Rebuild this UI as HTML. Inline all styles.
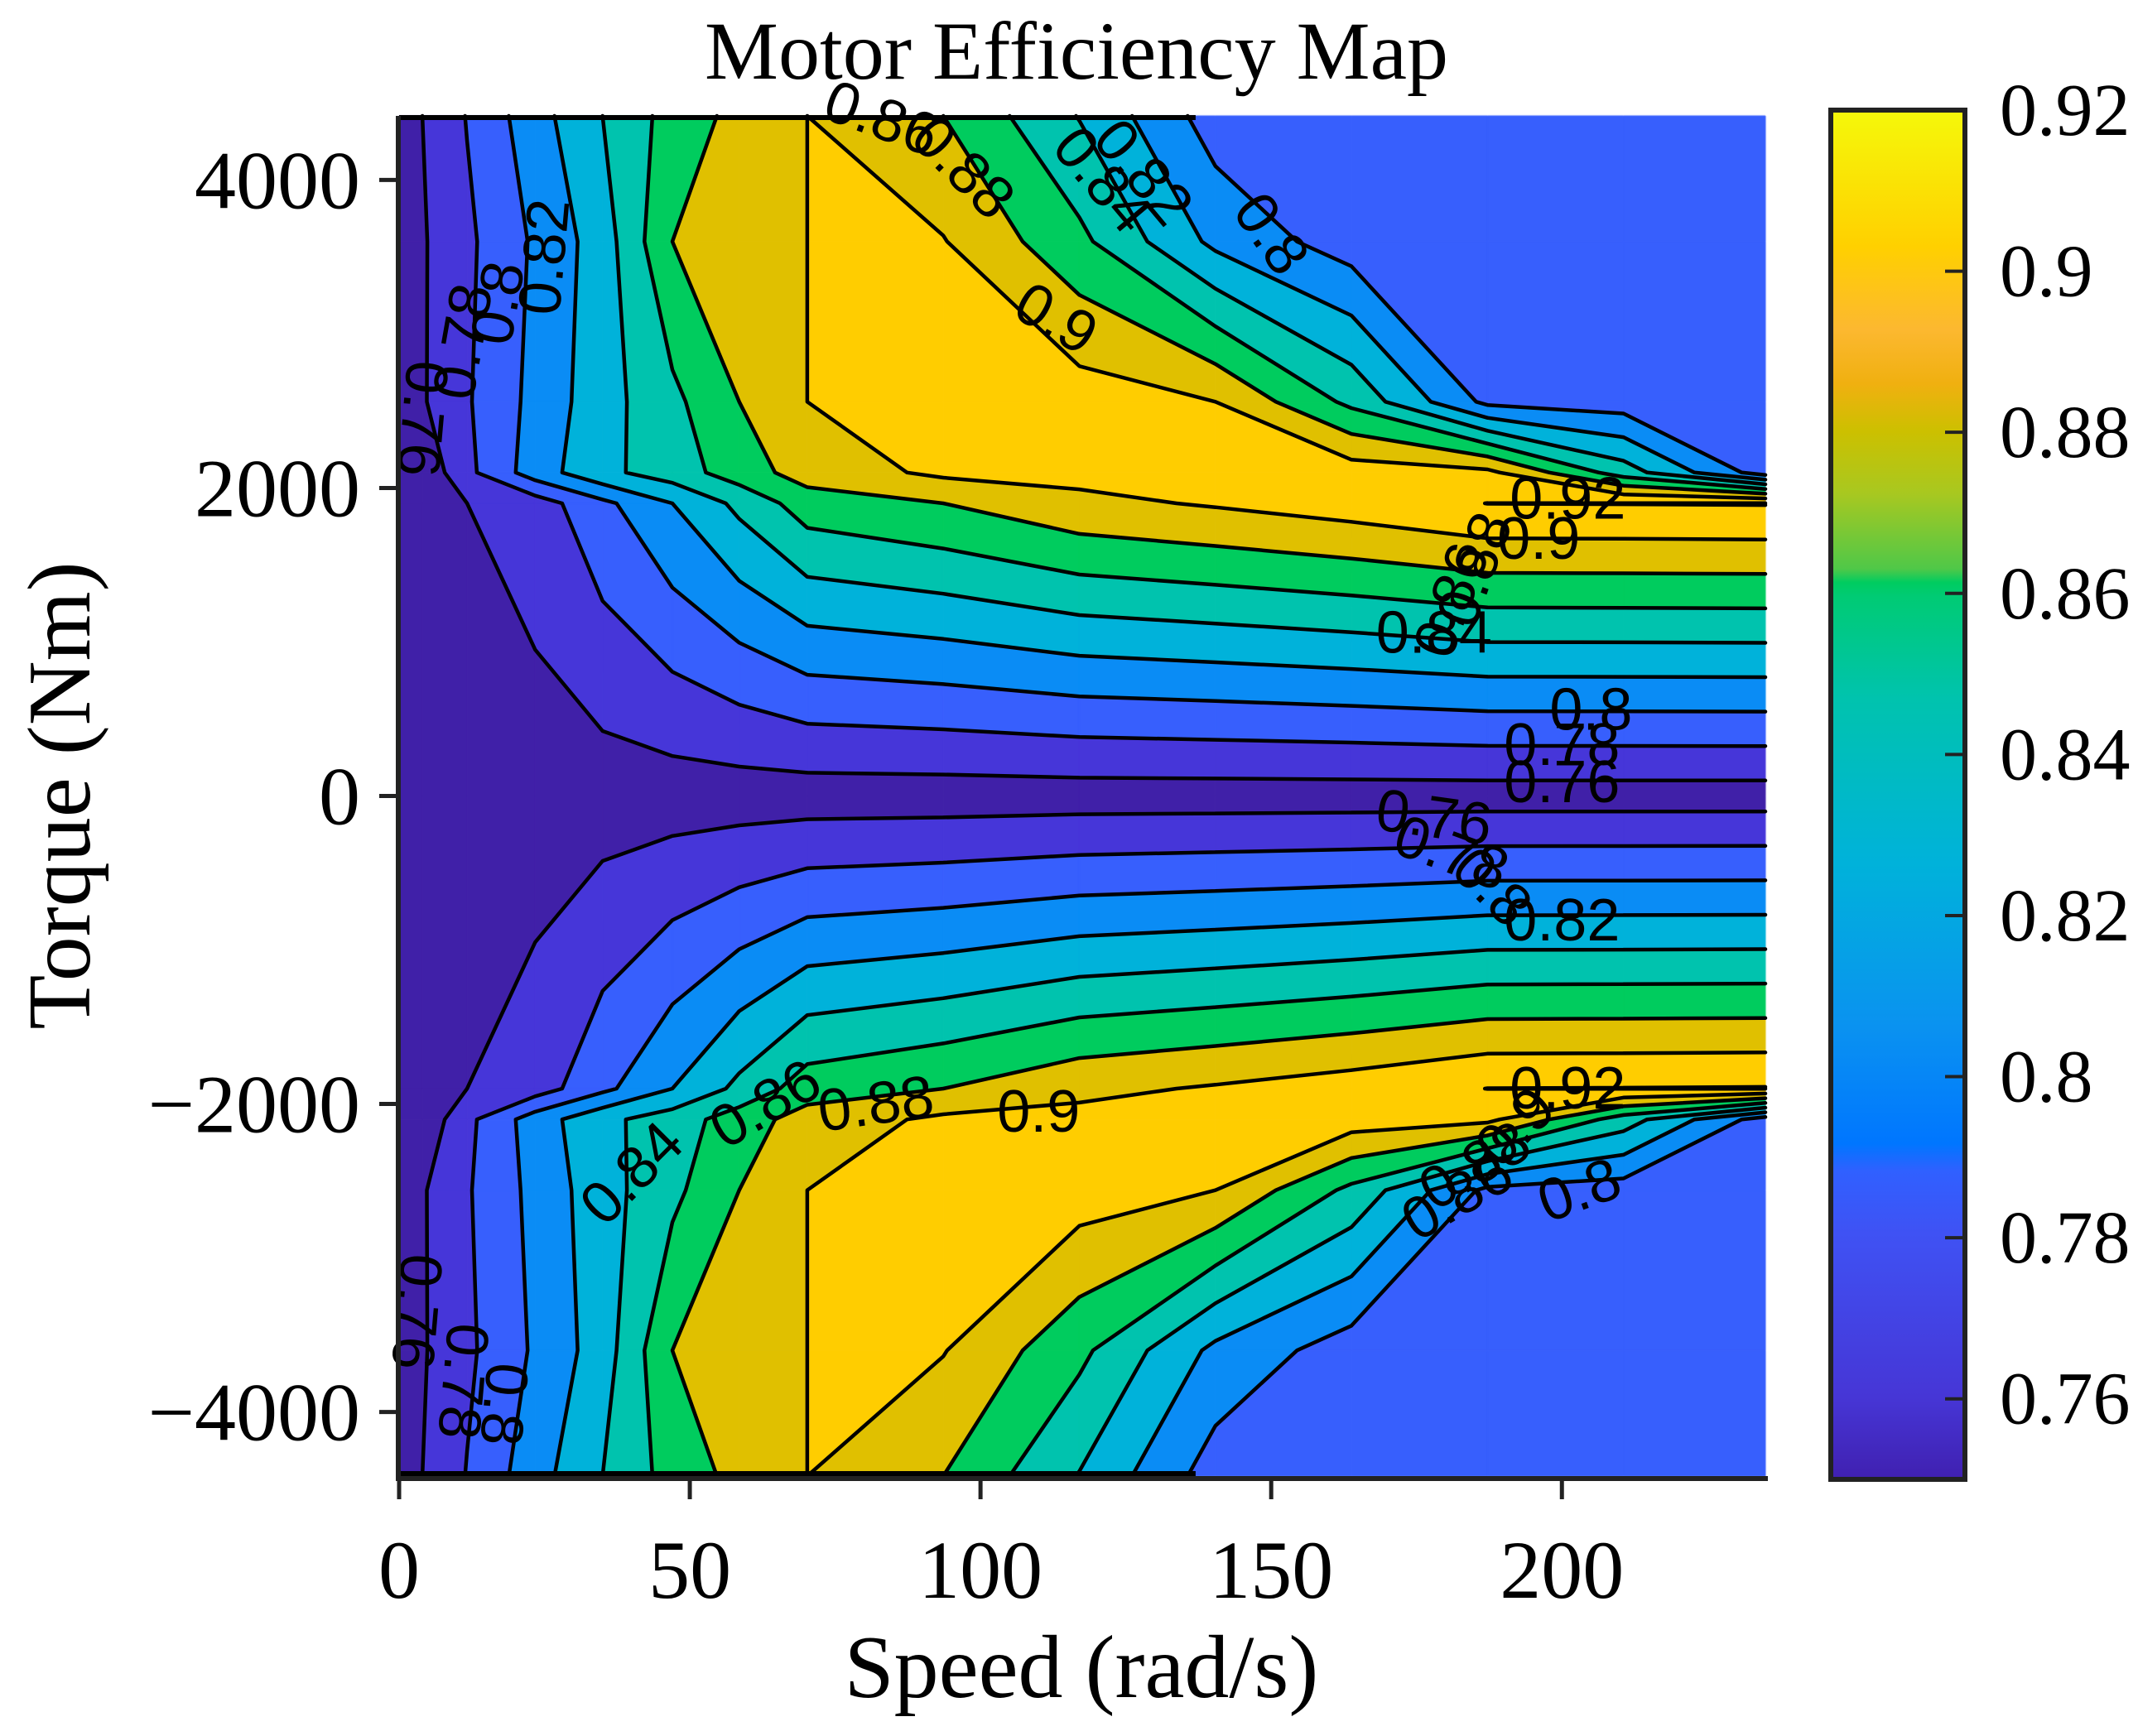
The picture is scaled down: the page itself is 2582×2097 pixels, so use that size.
<!DOCTYPE html>
<html><head><meta charset="utf-8">
<style>
html,body{margin:0;padding:0;background:#fff;}
#root{position:relative;width:2582px;height:2097px;overflow:hidden;background:#fff;}
canvas{position:absolute;left:0;top:0;}
svg{position:absolute;left:0;top:0;}
</style></head>
<body>
<div id="root">
<canvas id="fill" width="2582" height="2097"></canvas>
<svg id="ov" width="2582" height="2097">
  <defs>
    <linearGradient id="cbg" x1="0" y1="1" x2="0" y2="0">
      <stop offset="0" stop-color="#4020b0"/>
      <stop offset="0.06" stop-color="#4636d6"/>
      <stop offset="0.18" stop-color="#3f52f4"/>
      <stop offset="0.225" stop-color="#3060ff"/>
      <stop offset="0.245" stop-color="#0076ff"/>
      <stop offset="0.33" stop-color="#0a92f0"/>
      <stop offset="0.45" stop-color="#00b2da"/>
      <stop offset="0.57" stop-color="#00c3ae"/>
      <stop offset="0.645" stop-color="#00cb74"/>
      <stop offset="0.655" stop-color="#00cc60"/>
      <stop offset="0.665" stop-color="#50c848"/>
      <stop offset="0.72" stop-color="#a8c820"/>
      <stop offset="0.765" stop-color="#ccc000"/>
      <stop offset="0.80" stop-color="#f0b010"/>
      <stop offset="0.84" stop-color="#fcb830"/>
      <stop offset="0.90" stop-color="#ffd000"/>
      <stop offset="1" stop-color="#f5f80a"/>
    </linearGradient>
  </defs>
  <text x="1300" y="95" text-anchor="middle" font-family="Liberation Serif, serif" font-size="100">Motor Efficiency Map</text>
  <g id="contours"></g>
  <g id="clabels" font-family="Liberation Sans, sans-serif" font-size="72" fill="#000"></g>
  <g id="axes"></g>
  <text x="1306" y="2050" text-anchor="middle" font-family="Liberation Serif, serif" font-size="108">Speed (rad/s)</text>
  <text transform="translate(108,961) rotate(-90)" text-anchor="middle" font-family="Liberation Serif, serif" font-size="108">Torque (Nm)</text>
  <g id="cbar"></g>
</svg>
</div>
<script>
// ---- data ----
const speeds = [0, 4, 11.7, 23.4, 35, 47, 58.5, 70.2, 93.6, 117, 140.4, 163.8, 187.2, 210.6, 235];
const torques = [4416, 3600, 2560, 2100, 1900, 0, -1900, -2100, -2560, -3600, -4416];
const effRow4416 = [0.745,0.76,0.781,0.812,0.84,0.868,0.886,0.90,0.88,0.839,0.79,0.79,0.79,0.79,0.79];
const effRow3600 = [0.745,0.758,0.776,0.803,0.83,0.88,0.89,0.90,0.901,0.865,0.815,0.79,0.79,0.79,0.79];
const effRow2560 = [0.742,0.758,0.778,0.806,0.832,0.855,0.88,0.90,0.915,0.91,0.90,0.855,0.795,0.79,0.79];
const effRow2100 = [0.74,0.745,0.775,0.81,0.835,0.85,0.87,0.889,0.904,0.906,0.908,0.91,0.905,0.85,0.79];
const effRow1900 = [0.74,0.745,0.76,0.77,0.795,0.82,0.845,0.87,0.88,0.895,0.902,0.91,0.9202,0.9205,0.921];
const effRow0    = [0.74,0.742,0.745,0.75,0.75,0.7505,0.7505,0.7505,0.7505,0.751,0.751,0.751,0.751,0.751,0.751];
const effRowN1900 = [0.74,0.745,0.76,0.77,0.795,0.82,0.845,0.87,0.88,0.895,0.902,0.91,0.9202,0.9205,0.921];
const effRowN2100 = [0.74,0.745,0.775,0.81,0.835,0.85,0.87,0.889,0.904,0.906,0.908,0.91,0.905,0.85,0.79];
const effRowN2560 = [0.742,0.758,0.778,0.806,0.832,0.855,0.88,0.90,0.915,0.91,0.90,0.855,0.795,0.79,0.79];
const effRowN3600 = [0.745,0.758,0.776,0.803,0.83,0.88,0.89,0.90,0.901,0.865,0.815,0.79,0.79,0.79,0.79];
const effRowN4416 = [0.745,0.76,0.781,0.812,0.84,0.868,0.886,0.90,0.88,0.839,0.79,0.79,0.79,0.79,0.79];
const levels = [0.76,0.78,0.80,0.82,0.84,0.86,0.88,0.90,0.92];
const bandColors = ["#4020a8","#4636d9","#375ffd","#0a8cf5","#00b2da","#00c3ae","#00cc5e","#e0c000","#ffcd00","#f5f50a"];
const xTicks = [0,50,100,150,200];
const yTicks = [4000,2000,0,-2000,-4000];
const yTickLabels = ["4000","2000","0","\u22122000","\u22124000"];
const cbTicks = [0.76,0.78,0.80,0.82,0.84,0.86,0.88,0.90,0.92];
const cbTickLabels = ["0.76","0.78","0.8","0.82","0.84","0.86","0.88","0.9","0.92"];
const labelTexts = ["0.86","0.88","0.84","0.82","0.8","0.9","0.82","0.8","0.78","0.76","0.92","0.9","0.88","0.86","0.84","0.8","0.78","0.76",
  "0.76","0.78","0.8","0.82","0.84","0.86","0.88","0.9","0.92","0.9","0.88","0.86","0.8","0.76","0.78","0.8"];
const labelSpeeds = [83,97,121,128,150,113,25,17,11,4,201,196,185,181,178,205,200,200,
  178,181,188,200,40,63,82,110,201,192,185,182,203,3,11,18];
const labelTorques = [4400,4080,4000,4050,3650,3100,3500,3200,2950,2450,1930,1670,1470,1270,1060,560,330,90,
  -140,-370,-590,-810,-2450,-2000,-2000,-2050,-1900,-2150,-2400,-2600,-2560,-3350,-3800,-3950];
const labelAngles = [20,45,50,50,55,30,-85,-80,-80,95,0,0,-70,-70,0,0,0,0,
  8,20,45,0,-45,-30,-8,0,0,-45,-30,-30,-20,95,95,95];

const eff = [effRow4416,effRow3600,effRow2560,effRow2100,effRow1900,effRow0,effRowN1900,effRowN2100,effRowN2560,effRowN3600,effRowN4416];

// ---- axes ----
const PX0=482, PX1=2132, PY0=140, PY1=1783;
const SMAX=235, TMAX=4416;
function xScale(s){return PX0+(s/SMAX)*(PX1-PX0);}
function yScale(t){return PY0+(TMAX-t)/(2*TMAX)*(PY1-PY0);}
const CB0=2211, CB1=2373, CBY0=133, CBY1=1787, CMIN=0.75, CMAX=0.92;
function cScale(v){return CBY1-(v-CMIN)/(CMAX-CMIN)*(CBY1-CBY0);}

// ---- filled bands (isoband polygons per cell) ----
(function(){
  const cv=document.getElementById('fill');const ctx=cv.getContext('2d');
  const bounds=[-1].concat(levels).concat([2]);
  for(let j=0;j<torques.length-1;j++){for(let i=0;i<speeds.length-1;i++){
    const c=[[speeds[i],torques[j],eff[j][i]],[speeds[i+1],torques[j],eff[j][i+1]],[speeds[i+1],torques[j+1],eff[j+1][i+1]],[speeds[i],torques[j+1],eff[j+1][i]]];
    for(let b=0;b<bounds.length-1;b++){
      const lo=bounds[b],hi=bounds[b+1];const pts=[];
      for(let e=0;e<4;e++){const a=c[e],q=c[(e+1)%4];
        if(a[2]>=lo&&a[2]<hi)pts.push([a[0],a[1]]);
        const cr=[];
        [lo,hi].forEach(function(L){
          if((a[2]<L)!==(q[2]<L)){const t=(L-a[2])/(q[2]-a[2]);cr.push([t,a[0]+(q[0]-a[0])*t,a[1]+(q[1]-a[1])*t]);}
        });
        cr.sort(function(m,n){return m[0]-n[0];});
        cr.forEach(function(p){pts.push([p[1],p[2]]);});
      }
      if(pts.length>=3){
        ctx.beginPath();
        pts.forEach(function(p,k){const X=xScale(p[0]),Y=yScale(p[1]);if(k===0)ctx.moveTo(X,Y);else ctx.lineTo(X,Y);});
        ctx.closePath();ctx.fillStyle=bandColors[b];ctx.strokeStyle=bandColors[b];ctx.lineWidth=1;ctx.fill();ctx.stroke();
      }
    }
  }}
})();

const NS="http://www.w3.org/2000/svg";
function mk(tag,attrs,parent){const e=document.createElementNS(NS,tag);for(const k in attrs)e.setAttribute(k,attrs[k]);parent.appendChild(e);return e;}

// ---- contour lines (marching squares) ----
(function(){
  const g=document.getElementById('contours');
  levels.forEach(function(L){
    let dstr="";
    for(let j=0;j<torques.length-1;j++){for(let i=0;i<speeds.length-1;i++){
      const c=[[speeds[i],torques[j],eff[j][i]],[speeds[i+1],torques[j],eff[j][i+1]],[speeds[i+1],torques[j+1],eff[j+1][i+1]],[speeds[i],torques[j+1],eff[j+1][i]]];
      const pts=[];
      for(let e=0;e<4;e++){const a=c[e],b=c[(e+1)%4];
        const ia=a[2]>=L, ib=b[2]>=L;
        if(ia!==ib){const tt=(L-a[2])/(b[2]-a[2]);pts.push([a[0]+(b[0]-a[0])*tt,a[1]+(b[1]-a[1])*tt]);}}
      if(pts.length===2){dstr+="M"+xScale(pts[0][0]).toFixed(1)+","+yScale(pts[0][1]).toFixed(1)+"L"+xScale(pts[1][0]).toFixed(1)+","+yScale(pts[1][1]).toFixed(1);}
      else if(pts.length===4){for(let k=0;k<4;k+=2){dstr+="M"+xScale(pts[k][0]).toFixed(1)+","+yScale(pts[k][1]).toFixed(1)+"L"+xScale(pts[k+1][0]).toFixed(1)+","+yScale(pts[k+1][1]).toFixed(1);}}
    }}
    const p=mk('path',{d:dstr,fill:'none',stroke:'#000','stroke-width':4.5,'stroke-linecap':'round'},g);
    
    
  });
  const top=mk('line',{x1:xScale(0),y1:PY0+2,x2:xScale(137),y2:PY0+2,stroke:'#000','stroke-width':6},g);
  
  
  const bot=mk('line',{x1:xScale(0),y1:PY1-3,x2:xScale(137),y2:PY1-3,stroke:'#000','stroke-width':6},g);
  
  
})();

// ---- contour labels ----
(function(){
  const g=document.getElementById('clabels');
  labelTexts.forEach(function(tx,k){
    const x=xScale(labelSpeeds[k]),y=yScale(labelTorques[k]);
    const t=mk('text',{x:0,y:0,'text-anchor':'middle','dominant-baseline':'central',transform:'translate('+x.toFixed(1)+','+y.toFixed(1)+') rotate('+labelAngles[k]+')'},g);
    t.textContent=tx;
    
    
  });
})();

// ---- axes ----
(function(){
  const g=document.getElementById('axes');
  const xl=mk('line',{x1:PX0-2,y1:PY1+3,x2:PX1+3,y2:PY1+3,stroke:'#222','stroke-width':6},g);
  
  
  const yl=mk('line',{x1:PX0-1,y1:PY0,x2:PX0-1,y2:PY1+6,stroke:'#222','stroke-width':6},g);
  
  
  xTicks.forEach(function(v){const x=xScale(v);
    const tk=mk('line',{x1:x,y1:PY1+3,x2:x,y2:PY1+28,stroke:'#222','stroke-width':5},g);
    
    
    const t=mk('text',{x:x,y:1930,'text-anchor':'middle','font-family':'Liberation Serif, serif','font-size':100},g);
    t.textContent=String(v);
    
    
  });
  yTicks.forEach(function(v,k){const y=yScale(v);
    const tk=mk('line',{x1:PX0-24,y1:y,x2:PX0,y2:y,stroke:'#222','stroke-width':5},g);
    
    
    const t=mk('text',{x:435,y:y+34,'text-anchor':'end','font-family':'Liberation Serif, serif','font-size':100},g);
    t.textContent=yTickLabels[k];
    
    
  });
})();

// ---- colorbar ----
(function(){
  const g=document.getElementById('cbar');
  const r=mk('rect',{x:CB0,y:CBY0,width:CB1-CB0,height:CBY1-CBY0,fill:'url(#cbg)',stroke:'#222','stroke-width':6},g);
  
  
  cbTicks.forEach(function(v,k){const y=cScale(v);
    if(k<cbTicks.length-1){
      const tk=mk('line',{x1:CB1-24,y1:y,x2:CB1,y2:y,stroke:'#222','stroke-width':4},g);
      
      
    }
    const t=mk('text',{x:2415,y:y+30,'font-family':'Liberation Serif, serif','font-size':90},g);
    t.textContent=cbTickLabels[k];
    
    
  });
})();
</script>
</body></html>
